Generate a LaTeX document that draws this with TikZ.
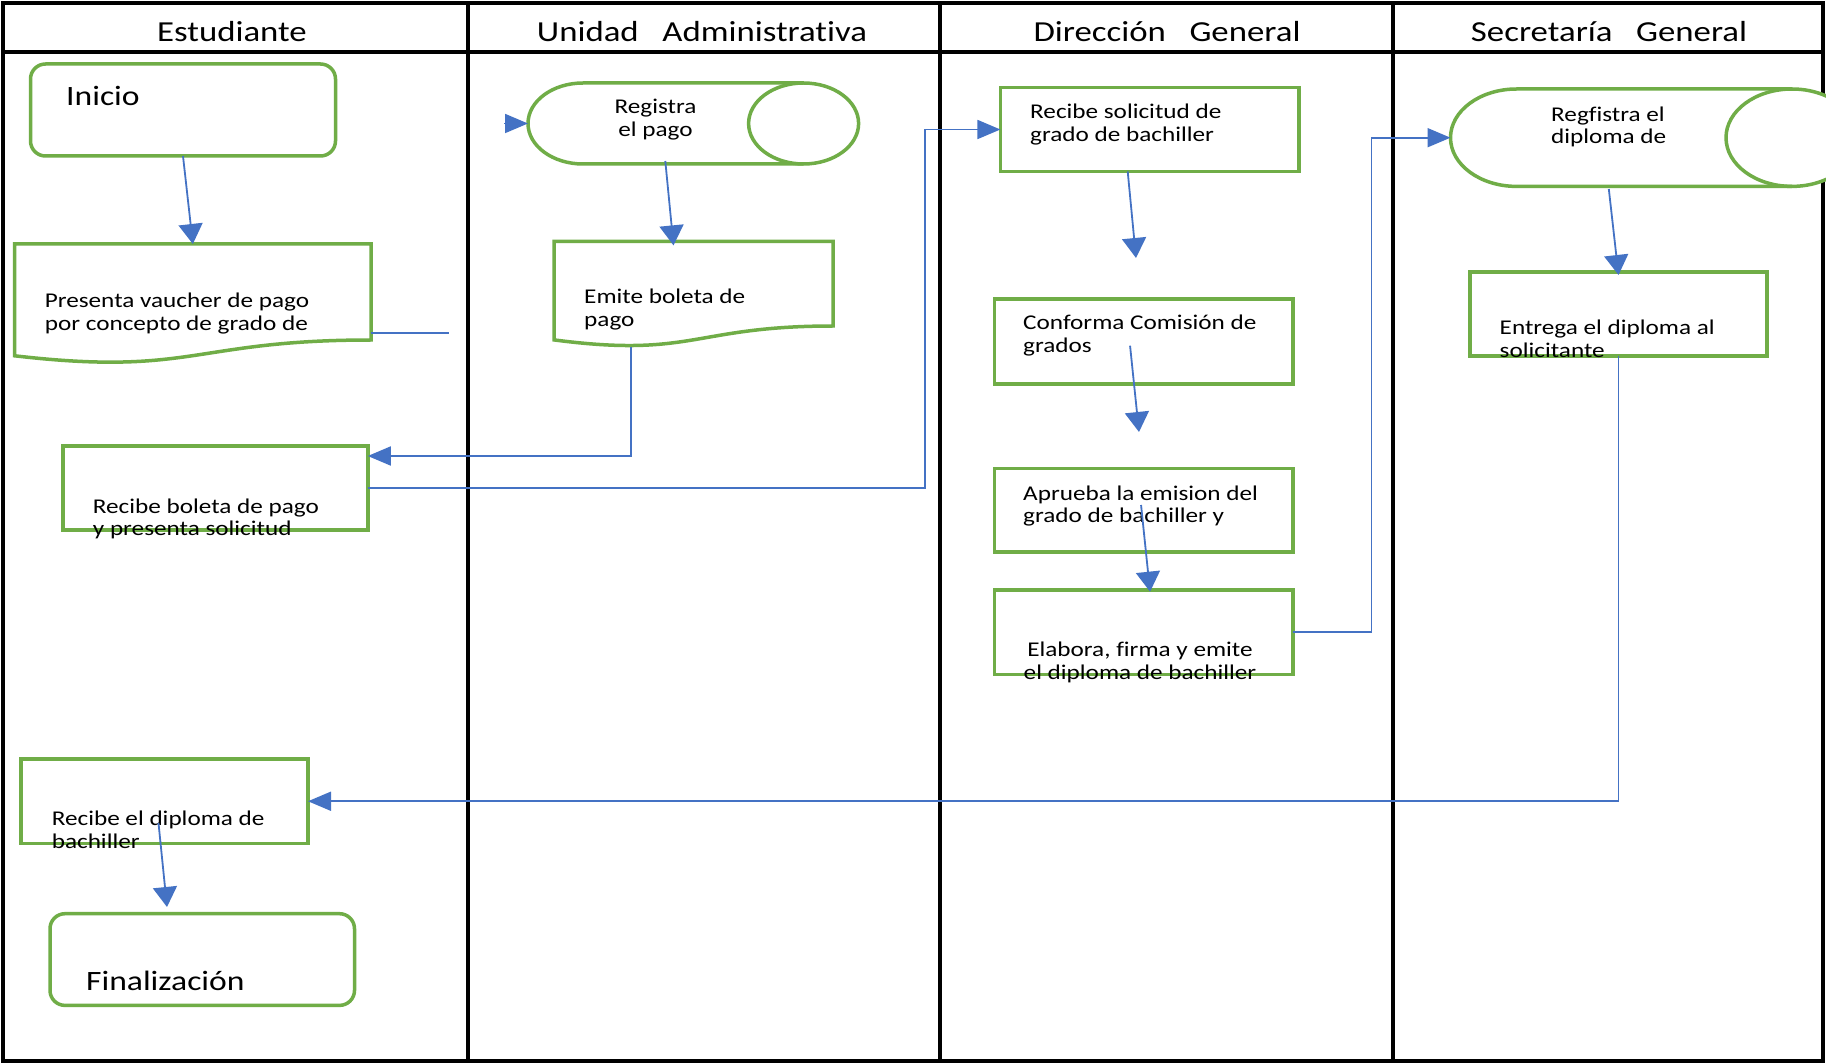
\documentclass[tikz,border=0pt]{standalone}
\usepackage{fontspec}
\setmainfont{Carlito}[FakeStretch=1.2, Ligatures=NoCommon]
\usetikzlibrary{arrows.meta,calc}

\definecolor{flowgreen}{HTML}{70AD47}
\definecolor{flowblue}{HTML}{4472C4}

\begin{document}
\begin{tikzpicture}[x=1pt, y=-1pt,
  frame/.style={draw=black, line width=3.5pt},
  gshape/.style={draw=flowgreen, line width=3.5pt, fill=white},
  procbox/.style={gshape, rectangle, inner sep=0pt, outer sep=0pt, anchor=north west},
  termbox/.style={procbox, rounded corners=15pt},
  area/.style={rectangle, inner sep=0pt, outer sep=0pt, anchor=north west},
  % two-line labels: the anchor sits on the baseline of the last line
  lbl/.style={font=\fontsize{21}{22.5}\selectfont, inner sep=0pt, align=left, anchor=base west},
  head/.style={font=\fontsize{29}{34}\selectfont, inner sep=0pt, anchor=base},
  big/.style={font=\fontsize{28}{34}\selectfont, inner sep=0pt, anchor=base west},
  conn/.style={draw=flowblue, line width=1.8pt},
  arrdown/.style={conn, -{Triangle[length=20pt, width=24pt]}},
  arrside/.style={conn, -{Triangle[length=23pt, width=19pt]}},
]
\useasboundingbox (0,0) rectangle (1826,1064);
\fill[white] (0,0) rectangle (1826,1064);
\clip (0,0) rectangle (1826,1064);

% swimlane frame
\draw[frame] (3,3) rectangle (1823,1061);
\draw[frame] (3,52) -- (1823,52);
\draw[frame] (468,3) -- (468,1061);
\draw[frame] (940,3) -- (940,1061);
\draw[frame] (1393,3) -- (1393,1061);

% lane titles
\node[head] (hEst) at (232,42) {Estudiante};
\node[head] (hUni) at (702,42) {Unidad~~~Administrativa};
\node[head] (hDir) at (1167,42) {Dirección~~~General};
\node[head] (hSec) at (1609,42) {Secretaría~~~General};

% ---- Estudiante ----
\node[termbox, minimum width=305pt, minimum height=92pt] (ini) at (30.5,64) {};

\node[area, minimum width=356.3pt, minimum height=111.8pt] (pres) at (14.7,244) {};
\draw[gshape] (pres.north west) -- (pres.north east) -- ($(pres.north east)+(0,96)$)
  .. controls ($(pres.north)+(0,96)$) and ($(pres.north)+(0,132.5)$) .. ($(pres.north west)+(0,111.8)$) -- cycle;

\node[procbox, minimum width=305pt, minimum height=84pt] (rbol) at (62.8,446) {};
\node[procbox, minimum width=287pt, minimum height=84.5pt] (rdip) at (21,759) {};
\node[termbox, minimum width=304.5pt, minimum height=91.7pt] (fin) at (50,913.7) {};

% ---- Unidad Administrativa ----
\node[area, minimum width=330.6pt, minimum height=81pt] (reg) at (528,83) {};
\draw[gshape] (583,83) -- (803.6,83) arc[start angle=-90, end angle=90, x radius=55, y radius=40.5]
  -- (583,164) arc[start angle=90, end angle=270, x radius=55, y radius=40.5] -- cycle;
\draw[gshape, fill=none] (803.6,83) arc[start angle=270, end angle=90, x radius=55, y radius=40.5];

\node[area, minimum width=279pt, minimum height=98.5pt] (emi) at (554,241.4) {};
\draw[gshape] (emi.north west) -- (emi.north east) -- ($(emi.north east)+(0,84.6)$)
  .. controls ($(emi.north)+(0,84.6)$) and ($(emi.north)+(0,116.8)$) .. ($(emi.north west)+(0,98.5)$) -- cycle;

% ---- Dirección General ----
\node[procbox, minimum width=298.6pt, minimum height=84pt] (rsol) at (1000.4,87.5) {};
\node[procbox, minimum width=298.3pt, minimum height=85pt] (conf) at (994.5,299) {};
\node[procbox, minimum width=298.3pt, minimum height=83.2pt] (apr) at (994.5,468.6) {};
\node[procbox, minimum width=298.3pt, minimum height=84.5pt] (elab) at (994.5,590) {};

% ---- Secretaría General ----
\node[area, minimum width=407.5pt, minimum height=97.4pt] (regf) at (1450.5,89) {};
\draw[gshape] (1516.5,89) -- (1792,89) arc[start angle=-90, end angle=90, x radius=66, y radius=48.7]
  -- (1516.5,186.4) arc[start angle=90, end angle=270, x radius=66, y radius=48.7] -- cycle;
\draw[gshape, fill=none] (1792,89) arc[start angle=270, end angle=90, x radius=66, y radius=48.7];

\node[procbox, minimum width=297pt, minimum height=84pt] (entr) at (1470,272) {};

% ---- texts ----
\node[big] (iniT) at (66,106) {Inicio};
\node[lbl] (presT) at (44.6,330.5) {Presenta vaucher de pago\\por concepto de grado de};
\node[lbl] (rbolT) at (92.7,535.5) {Recibe boleta de pago\\y presenta solicitud};
\node[lbl] (rdipT) at (51.6,848) {Recibe el diploma de\\bachiller};
\node[big] (finT) at (86,990) {Finalización};
\node[lbl, align=center, anchor=base] (regT) at (655.5,136.5) {Registra\\el pago};
\node[lbl] (emiT) at (584,326.1) {Emite boleta de\\pago};
\node[lbl] (rsolT) at (1030,141.5) {Recibe solicitud de\\grado de bachiller};
\node[lbl] (confT) at (1023,352.5) {Conforma Comisión de\\grados};
\node[lbl] (aprT) at (1023,522.5) {Aprueba la emision del\\grado de bachiller y};
\node[lbl, align=center, anchor=base] (elabT) at (1140,679) {Elabora, firma y emite\\el diploma de bachiller};
\node[lbl] (regfT) at (1551,143.9) {Regfistra el\\diploma de};
\node[lbl] (entrT) at (1499.5,357.5) {Entrega el diploma al\\solicitante};

% ---- connectors ----
\coordinate (presEnd) at (449,333);
\coordinate (busA) at (925,300);
\coordinate (busB) at (1371.4,300);
\coordinate (rsolTip) at (1136,258);
\coordinate (confTip) at (1139,432);

\draw[arrdown] (ini.south) -- (pres.north);
\draw[conn] ($(pres.north east)+(0,89)$) -- (presEnd);
\draw[arrside] ($(reg.west)+(-24,0)$) -- (reg.west);
\draw[arrdown] ($(reg.south)+(-28,-3)$) -- ($(emi.north)+(-20,4)$);
\draw[arrside] ($(emi.north west)+(77,105.6)$) |- ($(rbol.north east)+(0,10)$);
\draw[arrside] (rbol.east) -| (busA |- rsol.west) -- (rsol.west);
\draw[arrdown] ($(rsol.south)+(-22,0)$) -- (rsolTip);
\draw[arrdown] ($(conf.north)+(-13.6,46.7)$) -- (confTip);
\draw[arrdown] ($(apr.north)+(-2.6,36.4)$) -- ($(elab.north)+(6.4,1.7)$);
\draw[arrside] (elab.east) -| (busB |- regf.west) -- (regf.west);
\draw[arrdown] ($(regf.south west)+(158.3,2.6)$) -- ($(entr.north)+(0,3)$);
\draw[arrside] (entr.south) |- (rdip.east);
\draw[arrdown] ($(rdip.south west)+(137.5,-20.5)$) -- ($(fin.north west)+(117,-6.7)$);
\end{tikzpicture}
\end{document}
